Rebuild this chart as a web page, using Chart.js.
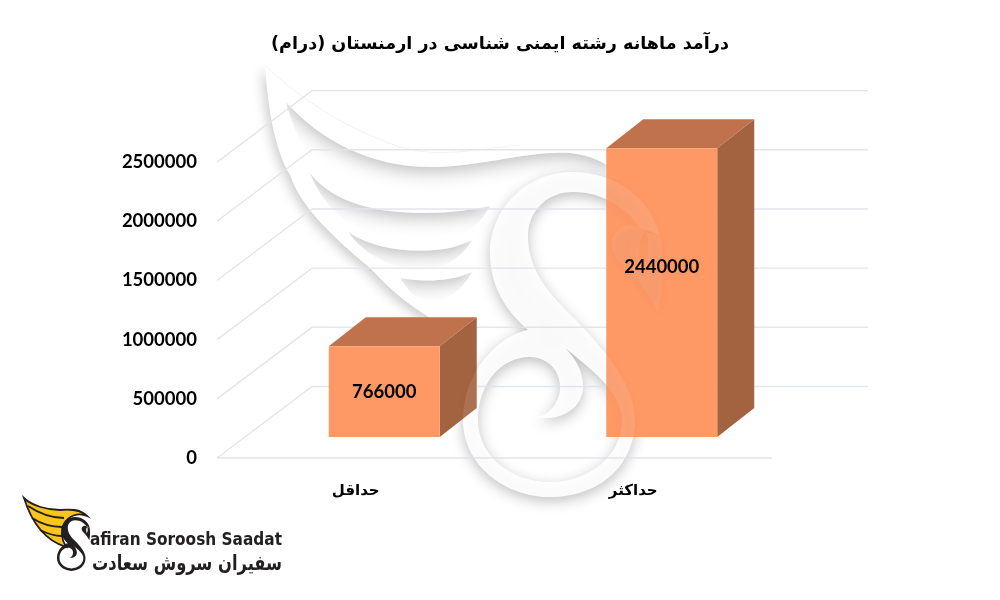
<!DOCTYPE html>
<html lang="fa">
<head>
<meta charset="utf-8">
<title>درآمد ماهانه</title>
<script src="https://cdn.jsdelivr.net/npm/chart.js@4/dist/chart.umd.min.js"></script>
<style>
  html, body { margin: 0; padding: 0; background: #fff; }
  canvas { display: block; }
</style>
</head>
<body>
<canvas id="SalaryChart" width="1000" height="600" dir="rtl"></canvas>
<script>
const chartTitle = 'درآمد ماهانه رشته ایمنی شناسی در ارمنستان (درام)';
const categories = ['حداقل', 'حداکثر'];
const salaryValues = [766000, 2440000];
const yTicks = [0, 500000, 1000000, 1500000, 2000000, 2500000];

const wallShift = { x: 95, y: -71.5 };   // floor depth of the fake 3d box
const barShift = { x: 28.5, y: -21 };    // bars stand part way into the floor
const barDepth = { x: 37, y: -29 };
const labelLift = [0, -26];
const gridColor = '#e3e5ec';

const swanBody = new Path2D(
    'M660,235 C650,198 615,172 573,172 C525,172 490,210 490,253 C490,285 505,310 528,330 ' +
    'C500,335 463,370 463,420 C463,465 505,497 550,497 C600,497 635,465 635,420 ' +
    'C635,385 605,350 573,317 C550,295 528,270 528,237 C528,210 548,192 573,192 C605,192 628,210 640,228 Z ' +
    'M565,348 C575,358 583,370 583,387 C583,408 560,422 537,417 C550,415 560,402 560,387 ' +
    'C560,368 545,357 530,357 C500,357 478,385 478,420 C478,455 510,482 550,482 ' +
    'C590,482 622,455 622,420 C622,392 590,368 565,348 Z');
const swanHead = new Path2D(
    'M660,235 C664,255 663,290 658,313 C650,295 635,275 620,262 C610,252 609,238 618,230 C626,223 636,222 645,232 ' +
    'C640,238 636,250 642,270 C650,258 650,240 645,232 Z');

function drawSwan(ctx) {
    ctx.save();
    ctx.fillStyle = '#fff';
    ctx.shadowColor = 'rgba(0,0,0,0.24)';
    ctx.shadowBlur = 14;
    ctx.shadowOffsetY = 4;
    ctx.fill(swanBody, 'evenodd');
    ctx.restore();
}

function drawWatermark(ctx) {
    // wing, only its left edge should throw a shadow
    ctx.save();
    ctx.clip(new Path2D('M200,40 L265,65 C300,100 350,130 400,147 L440,150 L440,340 L200,340 Z'));
    ctx.shadowColor = 'rgba(0,0,0,0.2)';
    ctx.shadowBlur = 12;
    ctx.shadowOffsetX = -3;
    ctx.shadowOffsetY = 4;
    ctx.fillStyle = '#fff';
    ctx.fill(new Path2D('M265,65 C268,110 275,150 290,175 C300,205 330,235 370,268 C395,295 410,305 430,318 L480,320 L560,250 L640,165 C560,135 470,150 400,147 C350,130 300,100 265,65 Z'));
    ctx.restore();
    ctx.save();
    ctx.strokeStyle = 'rgba(0,0,0,0.05)';
    ctx.stroke(new Path2D('M265,65 C300,100 350,130 400,147 C440,158 470,150 520,145'));
    ctx.restore();

    const feathers = [
        ['M286,102 C320,140 370,167 430,167 C480,167 530,150 570,153 C590,155 605,162 615,172', 'L615,225 C570,200 470,215 400,208 C350,200 305,175 286,102 Z', 'L615,60 L286,60 Z'],
        ['M310,173 C335,205 380,213 425,213 C450,213 470,210 490,206', 'C470,245 420,250 395,242 C350,230 325,210 310,173 Z', 'L490,120 L310,120 Z'],
        ['M348,232 C375,250 410,252 435,250 C450,249 462,245 472,240', 'C455,270 420,275 395,266 C375,258 360,249 348,232 Z', 'L472,190 L348,190 Z'],
        ['M400,278 C420,282 450,282 472,272', 'C455,303 430,308 410,292 Z', 'L472,240 L400,240 Z']
    ];
    feathers.forEach(function (f) {
        ctx.save();
        ctx.clip(new Path2D(f[0] + ' ' + f[1]));
        ctx.shadowColor = 'rgba(0,0,0,0.3)';
        ctx.shadowBlur = 20;
        ctx.shadowOffsetY = 3;
        ctx.fillStyle = '#fff';
        ctx.fill(new Path2D(f[0] + ' ' + f[2]));
        ctx.restore();
    });

    drawSwan(ctx);
}

function drawLogo(ctx) {
    ctx.save();
    ctx.fillStyle = '#f7c51c';
    ctx.strokeStyle = '#231f20';
    ctx.lineWidth = 1.8;
    const wing = new Path2D('M24,498 C32,506 48,510 60,510 C70,509 80,509 87,516 C78,512 68,516 64,524 C60,532 62,540 66,547 C50,542 34,530 24,498 Z');
    ctx.fill(wing);
    ctx.stroke(wing);
    ctx.beginPath();
    ctx.moveTo(28, 506); ctx.quadraticCurveTo(46, 518, 64, 518);
    ctx.moveTo(32, 518); ctx.quadraticCurveTo(46, 527, 62, 527);
    ctx.moveTo(40, 530); ctx.quadraticCurveTo(52, 536, 62, 536);
    ctx.stroke();

    // same swan as the watermark, just small
    ctx.save();
    ctx.translate(-19.9, 488.4);
    ctx.scale(0.166, 0.166);
    ctx.fillStyle = '#231f20';
    ctx.fill(swanBody, 'evenodd');
    ctx.fill(swanHead, 'evenodd');
    ctx.restore();

    ctx.fillStyle = '#231f20';
    ctx.textAlign = 'left';
    ctx.textBaseline = 'middle';
    ctx.direction = 'ltr';
    ctx.font = 'bold 17px "DejaVu Sans"';
    ctx.fillText('afiran Soroosh Saadat', 90, 541, 192);
    ctx.direction = 'rtl';
    ctx.textAlign = 'right';
    ctx.font = 'bold 21px "DejaVu Sans"';
    ctx.fillText('سفیران سروش سعادت', 282, 565, 190);
    ctx.restore();
}

const fakeBoxPlugin = {
    id: 'fakeBox',
    afterLayout(chart) {
        // title centred on the whole picture, not on the plot
        chart.titleBlock.left = 0;
        chart.titleBlock.right = chart.width;
        chart.titleBlock.width = chart.width;
    },
    beforeDraw(chart) {
        drawWatermark(chart.ctx);
    },
    beforeDatasetsDraw(chart) {
        const ctx = chart.ctx;
        const y = chart.scales.y;
        const left = chart.chartArea.left;
        const right = chart.chartArea.right;
        ctx.save();
        ctx.strokeStyle = gridColor;
        ctx.lineWidth = 1.4;
        yTicks.forEach(function (tick) {
            const py = y.getPixelForValue(tick);
            ctx.beginPath();
            ctx.moveTo(left, py);
            ctx.lineTo(left + wallShift.x, py + wallShift.y);
            ctx.lineTo(right + wallShift.x + 1, py + wallShift.y);
            ctx.stroke();
        });
        ctx.beginPath();
        ctx.moveTo(left, y.getPixelForValue(0));
        ctx.lineTo(right, y.getPixelForValue(0));
        ctx.stroke();
        ctx.restore();

        // box faces behind the front, then the library draws the front bar
        const bars = chart.getDatasetMeta(0).data;
        ctx.save();
        ctx.translate(barShift.x, barShift.y);
        bars.forEach(function (bar) {
            const l = bar.x - bar.width / 2;
            const r = bar.x + bar.width / 2;
            ctx.fillStyle = '#c0724d';
            ctx.beginPath();
            ctx.moveTo(l, bar.y);
            ctx.lineTo(l + barDepth.x, bar.y + barDepth.y);
            ctx.lineTo(r + barDepth.x, bar.y + barDepth.y);
            ctx.lineTo(r, bar.y);
            ctx.closePath();
            ctx.fill();
            ctx.fillStyle = '#a46340';
            ctx.beginPath();
            ctx.moveTo(r, bar.y);
            ctx.lineTo(r + barDepth.x, bar.y + barDepth.y);
            ctx.lineTo(r + barDepth.x, bar.base + barDepth.y);
            ctx.lineTo(r, bar.base);
            ctx.closePath();
            ctx.fill();
        });
    },
    afterDatasetsDraw(chart) {
        const ctx = chart.ctx;
        ctx.restore();
        // the swan sits faintly over the bars too
        ctx.save();
        ctx.globalAlpha = 0.1;
        drawSwan(ctx);
        ctx.globalAlpha = 0.06;
        ctx.shadowColor = 'rgba(0,0,0,0.5)';
        ctx.shadowBlur = 8;
        ctx.shadowOffsetY = 3;
        ctx.fillStyle = '#fff';
        ctx.fill(swanHead, 'evenodd');
        ctx.restore();
        const bars = chart.getDatasetMeta(0).data;
        ctx.save();
        ctx.fillStyle = '#000';
        ctx.font = 'bold 18.5px Lato';
        ctx.textAlign = 'center';
        ctx.textBaseline = 'middle';
        bars.forEach(function (bar, i) {
            ctx.fillText(String(salaryValues[i]), bar.x + barShift.x, (bar.y + bar.base) / 2 + barShift.y + labelLift[i]);
        });
        ctx.restore();
    },
    afterDraw(chart) {
        drawLogo(chart.ctx);
    }
};

new Chart(document.getElementById('SalaryChart'), {
    type: 'bar',
    data: {
        labels: categories,
        datasets: [{
            data: salaryValues,
            backgroundColor: '#fe9966',
            borderWidth: 0,
            barPercentage: 0.4,
            categoryPercentage: 1,
            clip: false
        }]
    },
    options: {
        responsive: false,
        animation: false,
        layout: { padding: { right: 228, bottom: 84 } },
        plugins: {
            legend: { display: false },
            tooltip: { enabled: false },
            title: {
                display: true,
                text: chartTitle,
                color: '#000',
                font: { family: '"DejaVu Sans"', size: 17.6, weight: 'bold' },
                padding: { top: 34, bottom: 107 }
            }
        },
        scales: {
            x: {
                grid: { display: false },
                border: { display: false },
                ticks: { color: '#000', padding: 16, font: { family: '"DejaVu Sans"', size: 15, weight: 'bold' } }
            },
            y: {
                min: 0,
                max: 2500000,
                afterBuildTicks(scale) { scale.ticks = yTicks.map(function (v) { return { value: v }; }); },
                afterFit(scale) { scale.width = 217; },
                grid: { display: false },
                border: { display: false },
                ticks: {
                    color: '#000',
                    padding: 12,
                    font: { family: 'Lato', size: 18.5, weight: 'bold' },
                    callback: function (v) { return String(v); }
                }
            }
        }
    },
    plugins: [fakeBoxPlugin]
});
</script>
</body>
</html>
